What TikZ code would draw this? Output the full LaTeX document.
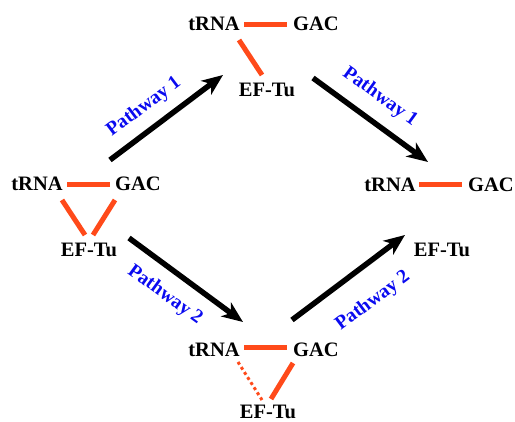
\documentclass[tikz,border=0pt]{standalone}
\usepackage{fontspec}
\setmainfont{Liberation Serif}
\usetikzlibrary{arrows.meta,calc}
\definecolor{bondred}{RGB}{255,74,26}
\definecolor{pathblue}{RGB}{10,10,240}
\tikzset{
  mol/.style={inner sep=0pt, font=\fontsize{20.5}{24}\selectfont\bfseries},
  bond/.style={draw=bondred, line width=5pt},
  weakbond/.style={draw=bondred, line width=3pt, dash pattern=on 3pt off 3pt},
  step arrow/.style={draw=black, line width=5.5pt,
    -{Stealth[length=21pt, width=17pt, inset=6pt]}},
  pathlabel/.style={text=pathblue, inner sep=0pt,
    font=\fontsize{19.5}{22}\selectfont\bfseries}
}
\begin{document}
\begin{tikzpicture}[x=1pt, y=-1pt]
\useasboundingbox (0,0) rectangle (515,422);

% starting complex (left)
\node[mol] (tL) at (37,184) {tRNA};
\node[mol] (gL) at (138,184) {GAC};
\node[mol] (eL) at (89,250) {EF-Tu};
\draw[bond] ([shift={(30,1)}]tL.center) -- ([shift={(-28,1)}]gL.center);
\draw[bond] ([shift={(25,16)}]tL.center) -- ([shift={(-4,-15)}]eL.center);
\draw[bond] ([shift={(-23,16)}]gL.center) -- ([shift={(4,-15)}]eL.center);

% pathway 1 intermediate (top)
\node[mol] (tT) at (214,24) {tRNA};
\node[mol] (gT) at (316,24) {GAC};
\node[mol] (eT) at (267,90) {EF-Tu};
\draw[bond] ([shift={(30,1)}]tT.center) -- ([shift={(-29,1)}]gT.center);
\draw[bond] ([shift={(25,16)}]tT.center) -- ([shift={(-5,-15)}]eT.center);

% final state (right)
\node[mol] (tR) at (390,185) {tRNA};
\node[mol] (gR) at (491,185) {GAC};
\node[mol] (eR) at (442,250) {EF-Tu};
\draw[bond] ([shift={(29,0)}]tR.center) -- ([shift={(-29,0)}]gR.center);

% pathway 2 intermediate (bottom)
\node[mol] (tB) at (214,350) {tRNA};
\node[mol] (gB) at (316,350) {GAC};
\node[mol] (eB) at (268,412) {EF-Tu};
\draw[bond] ([shift={(30,-2)}]tB.center) -- ([shift={(-29,-2)}]gB.center);
\draw[weakbond] ([shift={(24,12)}]tB.center) -- ([shift={(-6,-12)}]eB.center);
\draw[bond] ([shift={(-23,13)}]gB.center) -- ([shift={(3,-13)}]eB.center);

% reaction arrows
\coordinate (a1s) at (110,160); \coordinate (a1e) at (223,75);
\coordinate (a2s) at (313,78);  \coordinate (a2e) at (428,162);
\coordinate (a3s) at (129,238); \coordinate (a3e) at (243,322);
\coordinate (a4s) at (292,320); \coordinate (a4e) at (405,235);
\draw[step arrow] (a1s) -- (a1e);
\draw[step arrow] (a2s) -- (a2e);
\draw[step arrow] (a3s) -- (a3e);
\draw[step arrow] (a4s) -- (a4e);

% pathway labels
\node[pathlabel, rotate=37]  (p1a) at (144,107) {Pathway 1};
\node[pathlabel, rotate=-36] (p1b) at (380,97)  {Pathway 1};
\node[pathlabel, rotate=-36] (p2a) at (165,295) {Pathway 2};
\node[pathlabel, rotate=37]  (p2b) at (373,301) {Pathway 2};
\end{tikzpicture}
\end{document}
